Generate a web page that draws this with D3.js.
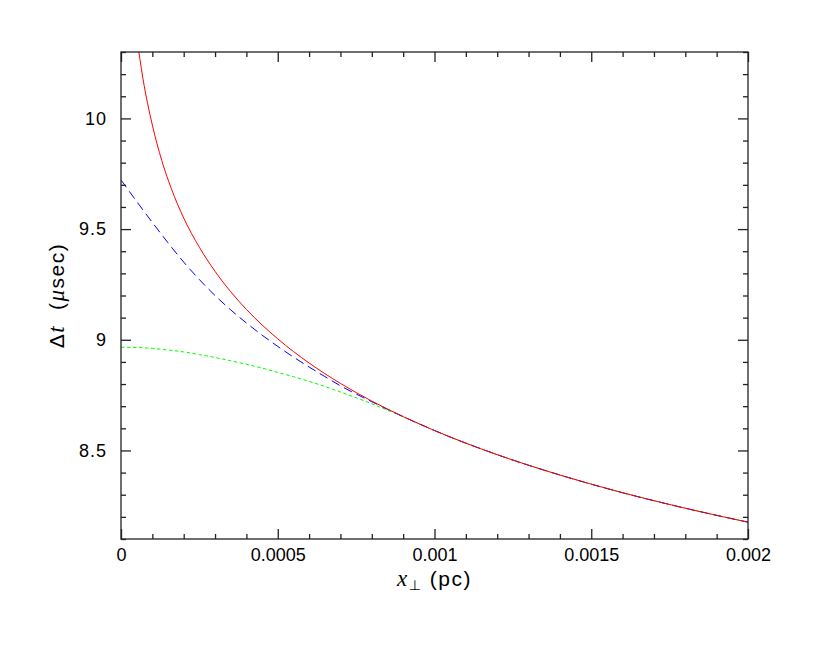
<!DOCTYPE html>
<html>
<head>
<meta charset="utf-8">
<script src="https://cdn.jsdelivr.net/npm/d3@7"></script>
<style>
  body { margin: 0; background: #fff; }
  text { font-family: "Liberation Sans", "DejaVu Sans", sans-serif; }
</style>
</head>
<body>
<svg width="830" height="664"></svg>
<script>
// data (x in pc, dt in microseconds)
var redX  = [0.00005, 0.00007, 0.0001, 0.00013, 0.00016, 0.0002, 0.00025, 0.0003, 0.00035, 0.0004, 0.00045, 0.0005, 0.0006, 0.0007, 0.0008, 0.0009, 0.001, 0.0012, 0.0014, 0.0016, 0.0018, 0.002];
var redDt = [10.37, 10.18, 9.97, 9.81, 9.685, 9.55, 9.418, 9.309, 9.217, 9.137, 9.067, 9.004, 8.895, 8.803, 8.723, 8.653, 8.59, 8.481, 8.389, 8.309, 8.239, 8.176];

var blueX  = [0, 0.00005, 0.0001, 0.00015, 0.0002, 0.00025, 0.0003, 0.00035, 0.0004, 0.00045, 0.0005, 0.00055, 0.0006, 0.00065, 0.0007, 0.00075, 0.0008, 0.00085, 0.0009, 0.00095, 0.001, 0.0012, 0.0014, 0.0016, 0.0018, 0.002];
var blueDt = [9.722, 9.625, 9.530, 9.438, 9.351, 9.272, 9.200, 9.135, 9.076, 9.021, 8.970, 8.922, 8.877, 8.834, 8.792, 8.755, 8.720, 8.686, 8.653, 8.621, 8.590, 8.481, 8.389, 8.309, 8.239, 8.176];

var greenX  = [0, 0.00005, 0.0001, 0.00015, 0.0002, 0.00025, 0.0003, 0.00035, 0.0004, 0.00045, 0.0005, 0.00055, 0.0006, 0.00065, 0.0007, 0.00075, 0.0008, 0.00085, 0.0009, 0.00095, 0.001, 0.0012, 0.0014, 0.0016, 0.0018, 0.002];
var greenDt = [8.966, 8.965, 8.961, 8.954, 8.945, 8.933, 8.920, 8.905, 8.889, 8.872, 8.853, 8.833, 8.812, 8.789, 8.764, 8.738, 8.711, 8.682, 8.652, 8.621, 8.590, 8.481, 8.389, 8.309, 8.239, 8.176];

var xMajor = [0, 0.0005, 0.001, 0.0015, 0.002];
var xLabels = ["0", "0.0005", "0.001", "0.0015", "0.002"];
var yMajor = [8.5, 9, 9.5, 10];
var yLabels = ["8.5", "9", "9.5", "10"];

var svg = d3.select("svg");
var pLeft = 121, pRight = 748, pTop = 52, pBottom = 539;

var x = d3.scaleLinear().domain([0, 0.002]).range([pLeft, pRight]);
var y = d3.scaleLinear().domain([8.1, 10.3]).range([pBottom, pTop]);

var xMinor = d3.range(0, 21).map(i => +(i * 0.0001).toFixed(4)).filter(v => xMajor.indexOf(v) < 0);
var yMinor = d3.range(81, 104).map(i => i / 10).filter(v => yMajor.indexOf(v) < 0);

svg.append("clipPath").attr("id", "clip")
  .append("rect").attr("x", pLeft).attr("y", pTop).attr("width", pRight - pLeft).attr("height", pBottom - pTop);

var line = d3.line()
  .x(d => x(d[0]))
  .y(d => y(d[1]))
  .curve(d3.curveMonotoneX);

var plot = svg.append("g").attr("clip-path", "url(#clip)");

plot.append("path")
  .attr("d", line(d3.zip(greenX, greenDt)))
  .attr("fill", "none").attr("stroke", "#00ff00").attr("stroke-width", 1)
  .attr("stroke-dasharray", "3.5,2.5");
plot.append("path")
  .attr("d", line(d3.zip(blueX, blueDt)))
  .attr("fill", "none").attr("stroke", "#0000ff").attr("stroke-width", 1)
  .attr("stroke-dasharray", "9,5");
plot.append("path")
  .attr("d", line(d3.zip(redX, redDt)))
  .attr("fill", "none").attr("stroke", "#ff0000").attr("stroke-width", 1);

// ticks (all four sides, pointing inward)
var axisColor = "#222";
function ticks(axis, tr) {
  var g = svg.append("g").attr("transform", tr).call(axis);
  g.select(".domain").remove();
  g.selectAll(".tick line").attr("stroke", axisColor).attr("stroke-width", 1.3);
  return g;
}
ticks(d3.axisBottom(x).tickValues(xMinor).tickSize(-5).tickFormat(""), "translate(0," + pBottom + ")");
ticks(d3.axisTop(x).tickValues(xMinor).tickSize(-5).tickFormat(""), "translate(0," + pTop + ")");
ticks(d3.axisTop(x).tickValues(xMajor).tickSize(-10).tickFormat(""), "translate(0," + pTop + ")");
ticks(d3.axisLeft(y).tickValues(yMinor).tickSize(-5).tickFormat(""), "translate(" + pLeft + ",0)");
ticks(d3.axisRight(y).tickValues(yMinor).tickSize(-5).tickFormat(""), "translate(" + pRight + ",0)");
ticks(d3.axisRight(y).tickValues(yMajor).tickSize(-10).tickFormat(""), "translate(" + pRight + ",0)");

var xb = ticks(d3.axisBottom(x).tickValues(xMajor).tickSize(-10).tickPadding(9)
  .tickFormat((d, i) => xLabels[i]), "translate(0," + pBottom + ")");
xb.selectAll(".tick text").attr("font-size", 18).attr("fill", "#000")
  .attr("font-family", "Liberation Sans, sans-serif");

var yl = ticks(d3.axisLeft(y).tickValues(yMajor).tickSize(-10).tickPadding(14)
  .tickFormat((d, i) => yLabels[i]), "translate(" + pLeft + ",0)");
yl.selectAll(".tick text").attr("font-size", 18).attr("fill", "#000")
  .attr("letter-spacing", 1)
  .attr("font-family", "Liberation Sans, sans-serif");

// frame
svg.append("rect")
  .attr("x", pLeft).attr("y", pTop)
  .attr("width", pRight - pLeft).attr("height", pBottom - pTop)
  .attr("fill", "none").attr("stroke", axisColor).attr("stroke-width", 1.3);

// axis titles
var xt = svg.append("text")
  .attr("x", (pLeft + pRight) / 2).attr("y", 586)
  .attr("text-anchor", "middle").attr("font-size", 21)
  .attr("letter-spacing", 1.5).attr("xml:space", "preserve");
xt.append("tspan").attr("font-style", "italic").attr("font-family", "Liberation Serif, serif").attr("font-size", 23).text("x");
xt.append("tspan").attr("dy", 4).attr("font-size", 14).text("\u22a5");
xt.append("tspan").attr("dy", -4).text(" (pc)");

var yt = svg.append("text")
  .attr("transform", "translate(64," + ((pTop + pBottom) / 2) + ") rotate(-90)")
  .attr("text-anchor", "middle").attr("font-size", 21)
  .attr("letter-spacing", 1.5).attr("xml:space", "preserve");
yt.append("tspan").text("\u0394");
yt.append("tspan").attr("font-style", "italic").attr("font-family", "Liberation Serif, serif").attr("font-size", 23).text("t");
yt.append("tspan").text("  (");
yt.append("tspan").attr("font-style", "italic").attr("font-family", "Liberation Serif, serif").attr("font-size", 23).text("\u03bc");
yt.append("tspan").text("sec)");
</script>
</body>
</html>
